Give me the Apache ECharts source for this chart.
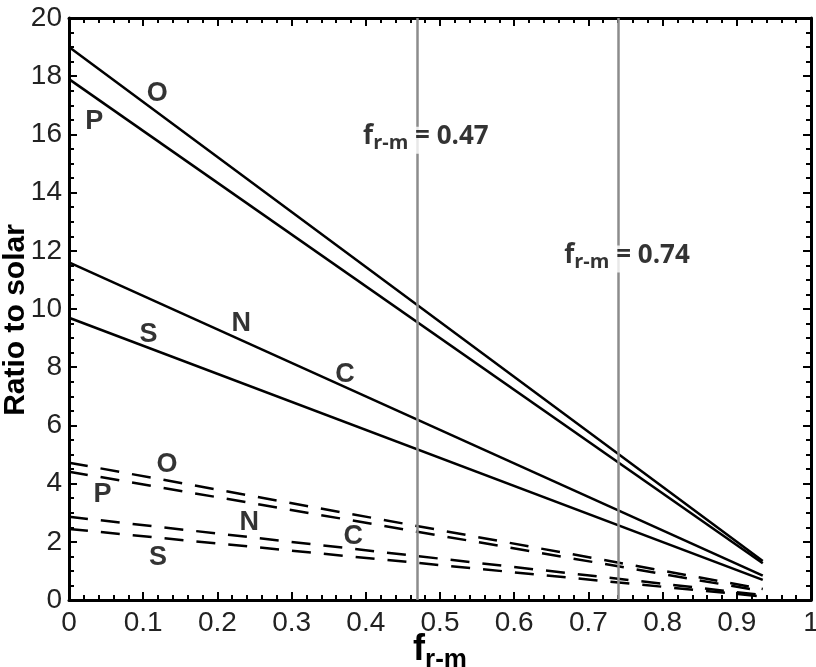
<!DOCTYPE html>
<html>
<head>
<meta charset="utf-8">
<script src="https://cdn.jsdelivr.net/npm/echarts@6/dist/echarts.min.js"></script>
<style>
  html, body { margin: 0; padding: 0; background: #fff; }
  #main { width: 816px; height: 667px; }
</style>
</head>
<body>
<div id="main"></div>
<script>
// x values (f_r-m) where each straight line starts and ends
let fVals = [0, 0.935]

// solid lines (upper set)
let solidO = [19.0, 1.34]
let solidP = [17.9, 1.26]
let solidN = [11.6, 0.84]
let solidS = [9.7, 0.69]

// dashed lines (lower set)
let dashO = [4.72, 0.38]
let dashP = [4.41, 0.3]
let dashN = [2.86, 0.17]
let dashS = [2.44, 0.12]

// vertical reference lines
let refX = [0.47, 0.74]
let refLabelX = [0.481, 0.752]
let refLabelY = [15.8, 11.72]

// element letters next to the lines
let letterText = ['O', 'P', 'N', 'C', 'S', 'O', 'P', 'N', 'C', 'S']
let letterX = [0.119, 0.034, 0.232, 0.372, 0.107, 0.132, 0.045, 0.243, 0.383, 0.120]
let letterY = [17.4, 16.45, 9.5, 7.75, 9.13, 4.65, 3.63, 2.66, 2.18, 1.46]

function pts(ys) {
  return fVals.map((x, i) => [x, ys[i]])
}

function lineSeries(ys, dashed) {
  return {
    type: 'line',
    data: pts(ys),
    showSymbol: false,
    silent: true,
    lineStyle: { color: '#000', width: 2.5, type: dashed ? [19, 13] : 'solid' },
    z: 3
  }
}

let axisCommon = {
  type: 'value',
  nameMoveOverlap: false,
  axisLine: { onZero: false, lineStyle: { color: '#000', width: 3 } },
  axisTick: { inside: true, length: 8, lineStyle: { color: '#000', width: 2 } },
  minorTick: { show: true, length: 5, lineStyle: { color: '#000', width: 2 } },
  splitLine: { show: false }
}

let oMain = document.querySelector('#main')
let oChart = echarts.init(oMain)

let series = [
  lineSeries(solidO, false),
  lineSeries(solidP, false),
  lineSeries(solidN, false),
  lineSeries(solidS, false),
  lineSeries(dashO, true),
  lineSeries(dashP, true),
  lineSeries(dashN, true),
  lineSeries(dashS, true)
]

series[0].markLine = {
  silent: true,
  symbol: ['none', 'none'],
  label: { show: false },
  lineStyle: { color: '#8c8c8c', width: 2.5, type: 'solid' },
  data: refX.map(x => ({ xAxis: x }))
}

series.push({
  type: 'scatter',
  symbolSize: 0,
  silent: true,
  z: 5,
  data: letterText.map((t, i) => [letterX[i], letterY[i], t]),
  label: {
    show: true,
    position: 'inside',
    formatter: p => p.value[2],
    fontFamily: 'Liberation Sans',
    fontWeight: 'bold',
    fontSize: 27,
    color: '#000'
  }
})

series.push({
  type: 'scatter',
  symbolSize: 0,
  silent: true,
  z: 10,
  data: refX.map((x, i) => [refLabelX[i], refLabelY[i], String(x)]),
  label: {
    show: true,
    position: 'inside',
    formatter: p => '{f|f}{s|r-m}{e| = ' + p.value[2] + '}',
    backgroundColor: '#fff',
    padding: [0, 2],
    rich: {
      f: { fontFamily: 'Open Sans', fontWeight: 'bold', fontSize: 26, lineHeight: 27, padding: [0, 0, 4, 0], verticalAlign: 'bottom', color: '#000' },
      s: { fontFamily: 'Open Sans', fontWeight: 'bold', fontSize: 20, lineHeight: 21, padding: [10, 0, 0, 0], verticalAlign: 'bottom', color: '#000' },
      e: { fontFamily: 'Open Sans', fontWeight: 'bold', fontSize: 26, lineHeight: 27, padding: [0, 0, 4, 0], verticalAlign: 'bottom', color: '#000' }
    }
  }
})

let option = {
  animation: false,
  backgroundColor: '#fff',
  grid: { left: 69, right: 5, top: 18, bottom: 67, outerBoundsMode: 'none' },
  xAxis: [
    Object.assign({}, axisCommon, {
      position: 'bottom', min: 0, max: 1, interval: 0.1,
      minorTick: Object.assign({}, axisCommon.minorTick, { splitNumber: 5 }),
      axisLabel: { fontFamily: 'Liberation Sans', fontSize: 28, color: '#222', margin: 9 },
      name: '{f|f}{s|r-m}',
      nameLocation: 'middle',
      nameGap: 35,
      nameTextStyle: {
        rich: {
          f: { fontFamily: 'Liberation Sans', fontWeight: 'bold', fontSize: 36, lineHeight: 38, padding: [0, 0, 5, 0], verticalAlign: 'bottom', color: '#000' },
          s: { fontFamily: 'Liberation Sans', fontWeight: 'bold', fontSize: 26, lineHeight: 28, padding: [15, 0, 0, 0], verticalAlign: 'bottom', color: '#000' }
        }
      }
    }),
    Object.assign({}, axisCommon, {
      position: 'top', min: 0, max: 1, interval: 0.1,
      minorTick: Object.assign({}, axisCommon.minorTick, { splitNumber: 5 }),
      axisLabel: { show: false }
    })
  ],
  yAxis: [
    Object.assign({}, axisCommon, {
      position: 'left', min: 0, max: 20, interval: 2,
      minorTick: Object.assign({}, axisCommon.minorTick, { splitNumber: 4 }),
      axisLabel: { fontFamily: 'Liberation Sans', fontSize: 28, color: '#222', margin: 7 },
      name: 'Ratio to solar',
      nameLocation: 'middle',
      nameRotate: 90,
      nameGap: 38,
      nameTextStyle: { fontFamily: 'Liberation Sans', fontWeight: 'bold', fontSize: 30, color: '#000', padding: [0, 22, 0, 0] }
    }),
    Object.assign({}, axisCommon, {
      position: 'right', min: 0, max: 20, interval: 2,
      minorTick: Object.assign({}, axisCommon.minorTick, { splitNumber: 4 }),
      axisLabel: { show: false }
    })
  ],
  series: series
}

oChart.setOption(option)
</script>
</body>
</html>
